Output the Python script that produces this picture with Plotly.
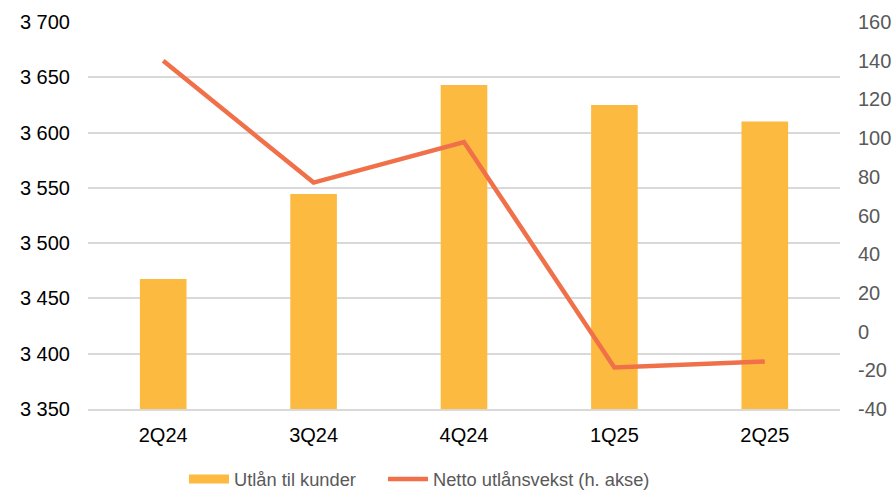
import plotly.graph_objects as go

categories = ["2Q24", "3Q24", "4Q24", "1Q25", "2Q25"]
utlan = [3467.5, 3544.5, 3643, 3625, 3610]
netto = [140, 77, 98, -18.5, -15.5]
right_ticks = [-40, -20, 0, 20, 40, 60, 80, 100, 120, 140, 160]

bar_color = "#FDBA40"
line_color = "#F07049"

fig = go.Figure()
fig.add_trace(go.Bar(x=categories, y=utlan, name="Utlån til kunder",
                     marker=dict(color=bar_color, line=dict(width=0)),
                     width=0.31, yaxis="y", showlegend=False))
# legend entry styled as the wide bar swatch
fig.add_trace(go.Scatter(x=[None], y=[None], name="Utlån til kunder",
                         mode="lines", line=dict(color=bar_color, width=9),
                         yaxis="y", showlegend=True, legendwidth=144))
fig.add_trace(go.Scatter(x=categories, y=netto, name="Netto utlånsvekst (h. akse)",
                         mode="lines", line=dict(color=line_color, width=4.5),
                         yaxis="y2"))

fig.update_layout(
    width=896, height=490,
    margin=dict(l=88, r=56, t=22, b=81, autoexpand=False),
    paper_bgcolor="white", plot_bgcolor="white",
    separators=", ",
    font=dict(family="Liberation Sans, Arial, sans-serif", size=20, color="#000000"),
    showlegend=True,
    legend=dict(orientation="h", x=(184 - 88) / 752, xanchor="left",
                y=-0.181, yanchor="middle",
                font=dict(size=18.3, color="#595959"), traceorder="normal",
                itemwidth=40, bgcolor="rgba(0,0,0,0)"),
    xaxis=dict(showgrid=False, showline=True, linecolor="#D9D9D9", linewidth=1.5,
               ticks="", tickfont=dict(size=20, color="#000000"),
               ticklabelstandoff=7),
    yaxis=dict(range=[3350, 3700], dtick=50, tickformat=",d",
               showgrid=True, gridcolor="#D9D9D9", gridwidth=1.5,
               zeroline=False, showline=False, ticks="",
               tickfont=dict(size=20, color="#000000"), ticklabelstandoff=17),
    yaxis2=dict(range=[-40, 160], tickmode="array", tickvals=right_ticks,
                ticktext=[str(v) for v in right_ticks],
                overlaying="y", side="right",
                showgrid=False, zeroline=False, showline=False, ticks="",
                tickfont=dict(size=20, color="#595959"), ticklabelstandoff=17),
    bargap=0.69,
)

fig.write_html(
    "out.html",
    config={"displayModeBar": False},
    post_script="document.body.style.margin='0';document.body.style.overflow='hidden';",
)
